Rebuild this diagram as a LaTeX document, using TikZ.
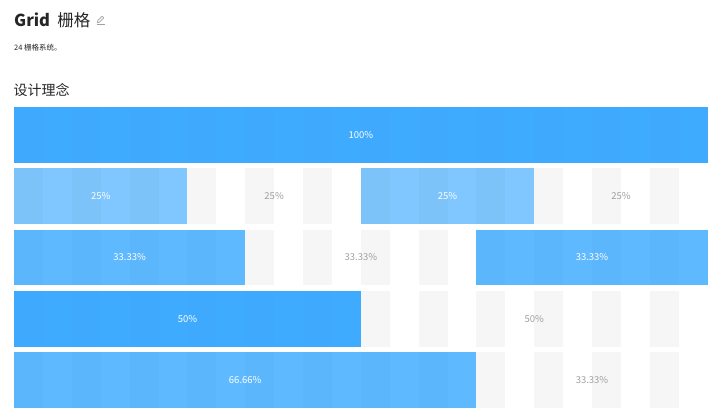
\documentclass[tikz,border=0pt]{standalone}
\usepackage{fontspec}
\setmainfont{Noto Sans CJK SC}
\definecolor{stripe}{RGB}{246,246,246}
\definecolor{antblue}{RGB}{16,150,255}
\definecolor{muted}{RGB}{160,160,160}
\definecolor{titlec}{RGB}{38,38,38}
\begin{document}
\begin{tikzpicture}[x=1pt,y=-1pt,
  barA/.style={fill=antblue,fill opacity=0.8,draw=none},
  barB/.style={fill=antblue,fill opacity=0.53,draw=none},
  barC/.style={fill=antblue,fill opacity=0.665,draw=none},
  onbar/.style={text=white,font=\fontsize{9.5}{10}\selectfont,inner sep=0pt},
  offbar/.style={text=muted,font=\fontsize{9.5}{10}\selectfont,inner sep=0pt}]
\useasboundingbox (0,0) rectangle (720,413);
\fill[white] (0,0) rectangle (720,413);
% title texts
\node[anchor=base west,inner sep=0pt,text=titlec,font=\fontsize{16.5}{20}\selectfont] (title) at (14,26) {\textbf{Grid}\ \ 栅格};
\node[anchor=west,inner sep=0pt,text=titlec,font=\fontsize{7.5}{9}\selectfont] (sub) at (14,47.5) {24 栅格系统。};
\node[anchor=west,inner sep=0pt,text=titlec,font=\fontsize{14}{16}\selectfont] (sect) at (13.5,90) {设计理念};
% pencil icon
\draw[muted,line width=0.6pt,line join=round] (97.2,22.8) -- (97.6,20.8) -- (102.2,16.2) -- (103.8,17.8) -- (99.2,22.4) -- cycle;
\draw[muted,line width=0.6pt] (96.5,24.2) -- (104.5,24.2);
% rows
\def\colw{28.9}
\foreach \top in {107,168.3,229.7,291,352.3}{
  \foreach \k in {0,2,...,22}{
    \fill[stripe] ({14+\k*\colw},\top) rectangle ({14+(\k+1)*\colw},{\top+55.7});
  }
}
% row 1
\fill[barA] (14,107) rectangle (707.6,162.7);
\node[onbar] (r1a) at (360.8,135) {100\%};
% row 2
\fill[barB] (14,168.3) rectangle (187.4,224);
\fill[barB] (360.8,168.3) rectangle (534.2,224);
\node[onbar] (r2a) at (100.7,196.2) {25\%};
\node[offbar] (r2b) at (274.1,196.2) {25\%};
\node[onbar] (r2c) at (447.5,196.2) {25\%};
\node[offbar] (r2d) at (620.9,196.2) {25\%};
% row 3
\fill[barC] (14,229.7) rectangle (245.2,285.3);
\fill[barC] (476.4,229.7) rectangle (707.6,285.3);
\node[onbar] (r3a) at (129.6,257.5) {33.33\%};
\node[offbar] (r3b) at (360.8,257.5) {33.33\%};
\node[onbar] (r3c) at (592,257.5) {33.33\%};
% row 4
\fill[barA] (14,291) rectangle (360.8,346.7);
\node[onbar] (r4a) at (187.4,318.9) {50\%};
\node[offbar] (r4b) at (534.2,318.9) {50\%};
% row 5
\fill[barC] (14,352.3) rectangle (476.4,408);
\node[onbar] (r5a) at (245.2,380.2) {66.66\%};
\node[offbar] (r5b) at (592,380.2) {33.33\%};
\end{tikzpicture}
\end{document}
